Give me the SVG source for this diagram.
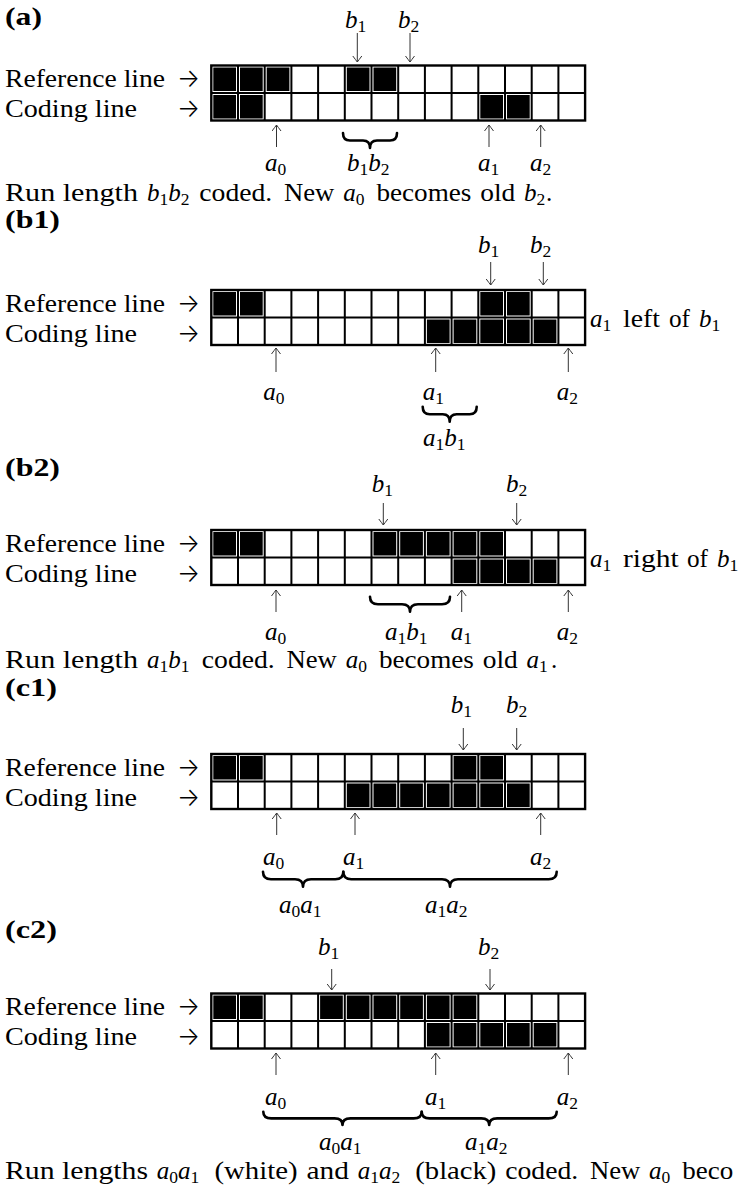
<svg xmlns="http://www.w3.org/2000/svg" xmlns:xlink="http://www.w3.org/1999/xlink" width="745" height="1195" viewBox="0 0 745 1195">
<style>
.t{font-family:"Liberation Serif","Times New Roman",serif;font-size:25px;fill:#000}
.ra{font-family:Inter,"DejaVu Sans",sans-serif;font-weight:300;font-size:26px;fill:#000}
.b{font-weight:bold}
.i{font-style:italic}
.s{font-style:normal;font-size:17.5px}
.gl{fill:none;stroke:#000;stroke-width:2}
.go{fill:none;stroke:#000;stroke-width:2.4}
.k{fill:#000}
.arr{stroke:#333;stroke-width:1;fill:none}
.brace{fill:none;stroke:#000;stroke-width:2.6;stroke-linecap:round;stroke-linejoin:round}
</style>
<defs>
<marker id="ah" viewBox="-7 -5 8 10" refX="0" refY="0" markerWidth="8" markerHeight="10" markerUnits="userSpaceOnUse" orient="auto">
<path d="M-6,-4.5 Q-2,-1.5 0,0 Q-2,1.5 -6,4.5" fill="none" stroke="#333" stroke-width="1"/>
</marker>
<rect id="k" class="k" width="22.7" height="23.5"/>
<g id="grid">
<path class="gl" d="M26.7 0V55M53.4 0V55M80.1 0V55M106.8 0V55M133.5 0V55M160.2 0V55M186.9 0V55M213.6 0V55M240.3 0V55M267 0V55M293.7 0V55M320.4 0V55M347.1 0V55M0 27.5H373.8"/>
<rect class="go" x="0" y="0" width="373.8" height="55"/>
</g>
</defs>
<rect width="745" height="1195" fill="#fff"/>

<!-- Panel (a) -->
<g id="panel-a">
<text class="t b" x="5" y="25" textLength="37" lengthAdjust="spacingAndGlyphs">(a)</text>
<text class="t" x="5" y="87.3" textLength="160" lengthAdjust="spacingAndGlyphs">Reference line</text>
<text class="ra" x="177" y="87.3" textLength="23" lengthAdjust="spacingAndGlyphs">→</text>
<text class="t" x="5" y="117.3" textLength="132" lengthAdjust="spacingAndGlyphs">Coding line</text>
<text class="ra" x="177" y="117.3" textLength="23" lengthAdjust="spacingAndGlyphs">→</text>
<g transform="translate(211.3,65.5)">
<use xlink:href="#k" x="2" y="2"/><use xlink:href="#k" x="28.7" y="2"/><use xlink:href="#k" x="55.4" y="2"/><use xlink:href="#k" x="135.5" y="2"/><use xlink:href="#k" x="162.2" y="2"/>
<use xlink:href="#k" x="2" y="29.5"/><use xlink:href="#k" x="28.7" y="29.5"/><use xlink:href="#k" x="269" y="29.5"/><use xlink:href="#k" x="295.7" y="29.5"/>
<use xlink:href="#grid"/>
</g>
<text class="t i" x="345" y="28">b<tspan class="s" dy="4">1</tspan></text>
<text class="t i" x="398" y="28">b<tspan class="s" dy="4">2</tspan></text>
<text class="t i" x="265" y="171">a<tspan class="s" dy="3.5">0</tspan></text>
<text class="t i" x="347" y="171">b<tspan class="s" dy="3.5">1</tspan><tspan dy="-3.5">b</tspan><tspan class="s" dy="3.5">2</tspan></text>
<text class="t i" x="478" y="171">a<tspan class="s" dy="3.5">1</tspan></text>
<text class="t i" x="530" y="171">a<tspan class="s" dy="3.5">2</tspan></text>
<text class="t" x="5" y="201" textLength="133" lengthAdjust="spacingAndGlyphs">Run length</text>
<text class="t i" x="147" y="201">b<tspan class="s" dy="4">1</tspan><tspan dy="-4">b</tspan><tspan class="s" dy="4">2</tspan></text>
<text class="t" x="199.3" y="201" textLength="73" lengthAdjust="spacingAndGlyphs">coded.</text>
<text class="t" x="284" y="201" textLength="50.4" lengthAdjust="spacingAndGlyphs">New</text>
<text class="t i" x="343.2" y="201">a<tspan class="s" dy="4">0</tspan></text>
<text class="t" x="376.4" y="201" textLength="95" lengthAdjust="spacingAndGlyphs">becomes</text>
<text class="t" x="480.2" y="201" textLength="35" lengthAdjust="spacingAndGlyphs">old</text>
<text class="t i" x="524" y="201">b<tspan class="s" dy="4">2</tspan></text>
<text class="t" x="546" y="201">.</text>
</g>

<!-- Panel (b1) -->
<g id="panel-b1">
<text class="t b" x="5" y="228" textLength="55" lengthAdjust="spacingAndGlyphs">(b1)</text>
<text class="t" x="5" y="311.8" textLength="160" lengthAdjust="spacingAndGlyphs">Reference line</text>
<text class="ra" x="177" y="311.8" textLength="23" lengthAdjust="spacingAndGlyphs">→</text>
<text class="t" x="5" y="341.8" textLength="132" lengthAdjust="spacingAndGlyphs">Coding line</text>
<text class="ra" x="177" y="341.8" textLength="23" lengthAdjust="spacingAndGlyphs">→</text>
<g transform="translate(211.3,290)">
<use xlink:href="#k" x="2" y="2"/><use xlink:href="#k" x="28.7" y="2"/><use xlink:href="#k" x="269" y="2"/><use xlink:href="#k" x="295.7" y="2"/>
<use xlink:href="#k" x="215.6" y="29.5"/><use xlink:href="#k" x="242.3" y="29.5"/><use xlink:href="#k" x="269" y="29.5"/><use xlink:href="#k" x="295.7" y="29.5"/><use xlink:href="#k" x="322.4" y="29.5"/>
<use xlink:href="#grid"/>
</g>
<text class="t i" x="478" y="253">b<tspan class="s" dy="4">1</tspan></text>
<text class="t i" x="530" y="253">b<tspan class="s" dy="4">2</tspan></text>
<text class="t i" x="263.3" y="400">a<tspan class="s" dy="4">0</tspan></text>
<text class="t i" x="422.7" y="400">a<tspan class="s" dy="4">1</tspan></text>
<text class="t i" x="556.7" y="400">a<tspan class="s" dy="4">2</tspan></text>
<text class="t i" x="423" y="446">a<tspan class="s" dy="4">1</tspan><tspan dy="-4">b</tspan><tspan class="s" dy="4">1</tspan></text>
<text class="t i" x="590" y="327">a<tspan class="s" dy="4">1</tspan></text>
<text class="t" x="623" y="327" textLength="37" lengthAdjust="spacingAndGlyphs">left</text>
<text class="t" x="669" y="327" textLength="21" lengthAdjust="spacingAndGlyphs">of</text>
<text class="t i" x="699" y="327">b<tspan class="s" dy="4">1</tspan></text>
</g>

<!-- Panel (b2) -->
<g id="panel-b2">
<text class="t b" x="5" y="476" textLength="55" lengthAdjust="spacingAndGlyphs">(b2)</text>
<text class="t" x="5" y="551.8" textLength="160" lengthAdjust="spacingAndGlyphs">Reference line</text>
<text class="ra" x="177" y="551.8" textLength="23" lengthAdjust="spacingAndGlyphs">→</text>
<text class="t" x="5" y="581.8" textLength="132" lengthAdjust="spacingAndGlyphs">Coding line</text>
<text class="ra" x="177" y="581.8" textLength="23" lengthAdjust="spacingAndGlyphs">→</text>
<g transform="translate(211.3,530)">
<use xlink:href="#k" x="2" y="2"/><use xlink:href="#k" x="28.7" y="2"/><use xlink:href="#k" x="162.2" y="2"/><use xlink:href="#k" x="188.9" y="2"/><use xlink:href="#k" x="215.6" y="2"/><use xlink:href="#k" x="242.3" y="2"/><use xlink:href="#k" x="269" y="2"/>
<use xlink:href="#k" x="242.3" y="29.5"/><use xlink:href="#k" x="269" y="29.5"/><use xlink:href="#k" x="295.7" y="29.5"/><use xlink:href="#k" x="322.4" y="29.5"/>
<use xlink:href="#grid"/>
</g>
<text class="t i" x="371.7" y="491.7">b<tspan class="s" dy="4">1</tspan></text>
<text class="t i" x="506" y="491.7">b<tspan class="s" dy="4">2</tspan></text>
<text class="t i" x="265" y="640">a<tspan class="s" dy="4">0</tspan></text>
<text class="t i" x="385" y="640">a<tspan class="s" dy="4">1</tspan><tspan dy="-4">b</tspan><tspan class="s" dy="4">1</tspan></text>
<text class="t i" x="450.7" y="640">a<tspan class="s" dy="4">1</tspan></text>
<text class="t i" x="556.7" y="640">a<tspan class="s" dy="4">2</tspan></text>
<text class="t i" x="590" y="567">a<tspan class="s" dy="4">1</tspan></text>
<text class="t" x="623" y="567" textLength="55.6" lengthAdjust="spacingAndGlyphs">right</text>
<text class="t" x="687" y="567" textLength="21" lengthAdjust="spacingAndGlyphs">of</text>
<text class="t i" x="717" y="567">b<tspan class="s" dy="4">1</tspan></text>
<text class="t" x="5" y="668" textLength="133" lengthAdjust="spacingAndGlyphs">Run length</text>
<text class="t i" x="147" y="668">a<tspan class="s" dy="4">1</tspan><tspan dy="-4">b</tspan><tspan class="s" dy="4">1</tspan></text>
<text class="t" x="201.8" y="668" textLength="73" lengthAdjust="spacingAndGlyphs">coded.</text>
<text class="t" x="286.5" y="668" textLength="50.4" lengthAdjust="spacingAndGlyphs">New</text>
<text class="t i" x="345.7" y="668">a<tspan class="s" dy="4">0</tspan></text>
<text class="t" x="378.9" y="668" textLength="95" lengthAdjust="spacingAndGlyphs">becomes</text>
<text class="t" x="482.7" y="668" textLength="35" lengthAdjust="spacingAndGlyphs">old</text>
<text class="t i" x="526.5" y="668">a<tspan class="s" dy="4">1</tspan></text>
<text class="t" x="550.9" y="668">.</text>
</g>

<!-- Panel (c1) -->
<g id="panel-c1">
<text class="t b" x="5" y="696" textLength="52" lengthAdjust="spacingAndGlyphs">(c1)</text>
<text class="t" x="5" y="775.8" textLength="160" lengthAdjust="spacingAndGlyphs">Reference line</text>
<text class="ra" x="177" y="775.8" textLength="23" lengthAdjust="spacingAndGlyphs">→</text>
<text class="t" x="5" y="805.8" textLength="132" lengthAdjust="spacingAndGlyphs">Coding line</text>
<text class="ra" x="177" y="805.8" textLength="23" lengthAdjust="spacingAndGlyphs">→</text>
<g transform="translate(211.3,754)">
<use xlink:href="#k" x="2" y="2"/><use xlink:href="#k" x="28.7" y="2"/><use xlink:href="#k" x="242.3" y="2"/><use xlink:href="#k" x="269" y="2"/>
<use xlink:href="#k" x="135.5" y="29.5"/><use xlink:href="#k" x="162.2" y="29.5"/><use xlink:href="#k" x="188.9" y="29.5"/><use xlink:href="#k" x="215.6" y="29.5"/><use xlink:href="#k" x="242.3" y="29.5"/><use xlink:href="#k" x="269" y="29.5"/><use xlink:href="#k" x="295.7" y="29.5"/>
<use xlink:href="#grid"/>
</g>
<text class="t i" x="450.7" y="713">b<tspan class="s" dy="4">1</tspan></text>
<text class="t i" x="506" y="713">b<tspan class="s" dy="4">2</tspan></text>
<text class="t i" x="263" y="865">a<tspan class="s" dy="4">0</tspan></text>
<text class="t i" x="343" y="865">a<tspan class="s" dy="4">1</tspan></text>
<text class="t i" x="530" y="865">a<tspan class="s" dy="4">2</tspan></text>
<text class="t i" x="279" y="913">a<tspan class="s" dy="4">0</tspan><tspan dy="-4">a</tspan><tspan class="s" dy="4">1</tspan></text>
<text class="t i" x="425" y="913">a<tspan class="s" dy="4">1</tspan><tspan dy="-4">a</tspan><tspan class="s" dy="4">2</tspan></text>
</g>

<!-- Panel (c2) -->
<g id="panel-c2">
<text class="t b" x="5" y="938" textLength="52" lengthAdjust="spacingAndGlyphs">(c2)</text>
<text class="t" x="5" y="1015.3" textLength="160" lengthAdjust="spacingAndGlyphs">Reference line</text>
<text class="ra" x="177" y="1015.3" textLength="23" lengthAdjust="spacingAndGlyphs">→</text>
<text class="t" x="5" y="1045.3" textLength="132" lengthAdjust="spacingAndGlyphs">Coding line</text>
<text class="ra" x="177" y="1045.3" textLength="23" lengthAdjust="spacingAndGlyphs">→</text>
<g transform="translate(211.3,993.5)">
<use xlink:href="#k" x="2" y="2"/><use xlink:href="#k" x="28.7" y="2"/><use xlink:href="#k" x="108.8" y="2"/><use xlink:href="#k" x="135.5" y="2"/><use xlink:href="#k" x="162.2" y="2"/><use xlink:href="#k" x="188.9" y="2"/><use xlink:href="#k" x="215.6" y="2"/><use xlink:href="#k" x="242.3" y="2"/>
<use xlink:href="#k" x="215.6" y="29.5"/><use xlink:href="#k" x="242.3" y="29.5"/><use xlink:href="#k" x="269" y="29.5"/><use xlink:href="#k" x="295.7" y="29.5"/><use xlink:href="#k" x="322.4" y="29.5"/>
<use xlink:href="#grid"/>
</g>
<text class="t i" x="318" y="955">b<tspan class="s" dy="4">1</tspan></text>
<text class="t i" x="478" y="955">b<tspan class="s" dy="4">2</tspan></text>
<text class="t i" x="265" y="1105">a<tspan class="s" dy="4">0</tspan></text>
<text class="t i" x="425" y="1105">a<tspan class="s" dy="4">1</tspan></text>
<text class="t i" x="556.7" y="1105">a<tspan class="s" dy="4">2</tspan></text>
<text class="t i" x="319" y="1150">a<tspan class="s" dy="4">0</tspan><tspan dy="-4">a</tspan><tspan class="s" dy="4">1</tspan></text>
<text class="t i" x="465" y="1150">a<tspan class="s" dy="4">1</tspan><tspan dy="-4">a</tspan><tspan class="s" dy="4">2</tspan></text>
<text class="t" x="5" y="1179" textLength="143" lengthAdjust="spacingAndGlyphs">Run lengths</text>
<text class="t i" x="156.8" y="1179">a<tspan class="s" dy="4">0</tspan><tspan dy="-4">a</tspan><tspan class="s" dy="4">1</tspan></text>
<text class="t" x="214.4" y="1179" textLength="83.3" lengthAdjust="spacingAndGlyphs">(white)</text>
<text class="t" x="306.5" y="1179" textLength="42.4" lengthAdjust="spacingAndGlyphs">and</text>
<text class="t i" x="357.7" y="1179">a<tspan class="s" dy="4">1</tspan><tspan dy="-4">a</tspan><tspan class="s" dy="4">2</tspan></text>
<text class="t" x="415.3" y="1179" textLength="81.1" lengthAdjust="spacingAndGlyphs">(black)</text>
<text class="t" x="505.2" y="1179" textLength="73" lengthAdjust="spacingAndGlyphs">coded.</text>
<text class="t" x="589.9" y="1179" textLength="50.4" lengthAdjust="spacingAndGlyphs">New</text>
<text class="t i" x="649.1" y="1179">a<tspan class="s" dy="4">0</tspan></text>
<text class="t" x="682.3" y="1179" textLength="51" lengthAdjust="spacingAndGlyphs">beco</text>
</g>

<!-- Connectors: arrows and braces -->
<g id="connectors">
<line class="arr" x1="357.3" y1="33" x2="357.3" y2="62" marker-end="url(#ah)"/>
<line class="arr" x1="410" y1="33" x2="410" y2="62" marker-end="url(#ah)"/>
<line class="arr" x1="276.5" y1="147" x2="276.5" y2="125" marker-end="url(#ah)"/>
<line class="arr" x1="489" y1="147" x2="489" y2="125" marker-end="url(#ah)"/>
<line class="arr" x1="540.7" y1="147" x2="540.7" y2="125" marker-end="url(#ah)"/>
<path class="brace" d="M343,133 Q343,140.5 350,140.5 L363,140.5 Q370,140.5 370,148 Q370,140.5 377,140.5 L390,140.5 Q397,140.5 397,133"/>

<line class="arr" x1="490.7" y1="262" x2="490.7" y2="285" marker-end="url(#ah)"/>
<line class="arr" x1="543.3" y1="262" x2="543.3" y2="285" marker-end="url(#ah)"/>
<line class="arr" x1="276" y1="372" x2="276" y2="348" marker-end="url(#ah)"/>
<line class="arr" x1="435.7" y1="372" x2="435.7" y2="348" marker-end="url(#ah)"/>
<line class="arr" x1="568.3" y1="372" x2="568.3" y2="348" marker-end="url(#ah)"/>
<path class="brace" d="M422.7,406.7 Q422.7,414.2 429.7,414.2 L442.7,414.2 Q449.7,414.2 449.7,421.7 Q449.7,414.2 456.7,414.2 L469.7,414.2 Q476.7,414.2 476.7,406.7"/>

<line class="arr" x1="383.3" y1="503" x2="383.3" y2="525" marker-end="url(#ah)"/>
<line class="arr" x1="516.7" y1="503" x2="516.7" y2="525" marker-end="url(#ah)"/>
<line class="arr" x1="276" y1="612" x2="276" y2="590" marker-end="url(#ah)"/>
<line class="arr" x1="461.7" y1="612" x2="461.7" y2="590" marker-end="url(#ah)"/>
<line class="arr" x1="568.3" y1="612" x2="568.3" y2="590" marker-end="url(#ah)"/>
<path class="brace" d="M370,596.7 Q370,604.2 378,604.2 L402,604.2 Q410,604.2 410,611.7 Q410,604.2 418,604.2 L442,604.2 Q450,604.2 450,596.7"/>

<line class="arr" x1="463.3" y1="728" x2="463.3" y2="750" marker-end="url(#ah)"/>
<line class="arr" x1="516.7" y1="728" x2="516.7" y2="750" marker-end="url(#ah)"/>
<line class="arr" x1="276.7" y1="835" x2="276.7" y2="813" marker-end="url(#ah)"/>
<line class="arr" x1="355" y1="835" x2="355" y2="813" marker-end="url(#ah)"/>
<line class="arr" x1="540.7" y1="835" x2="540.7" y2="813" marker-end="url(#ah)"/>
<path class="brace" d="M263,871.7 Q263,879.2 271,879.2 L295,879.2 Q303,879.2 303,886.7 Q303,879.2 311,879.2 L335.3,879.2 Q343.3,879.2 343.3,871.7"/>
<path class="brace" d="M343.3,871.7 Q343.3,879.2 351.3,879.2 L442,879.2 Q450,879.2 450,886.7 Q450,879.2 458,879.2 L548.7,879.2 Q556.7,879.2 556.7,871.7"/>

<line class="arr" x1="331.7" y1="969" x2="331.7" y2="990" marker-end="url(#ah)"/>
<line class="arr" x1="490" y1="969" x2="490" y2="990" marker-end="url(#ah)"/>
<line class="arr" x1="276" y1="1075" x2="276" y2="1053" marker-end="url(#ah)"/>
<line class="arr" x1="435.7" y1="1075" x2="435.7" y2="1053" marker-end="url(#ah)"/>
<line class="arr" x1="568.3" y1="1075" x2="568.3" y2="1053" marker-end="url(#ah)"/>
<path class="brace" d="M263.3,1111.7 Q263.3,1118.4 271.3,1118.4 L334.5,1118.4 Q342.5,1118.4 342.5,1125 Q342.5,1118.4 350.5,1118.4 L413.7,1118.4 Q421.7,1118.4 421.7,1111.7"/>
<path class="brace" d="M421.7,1111.7 Q421.7,1118.4 429.7,1118.4 L481.2,1118.4 Q489.2,1118.4 489.2,1125 Q489.2,1118.4 497.2,1118.4 L548.7,1118.4 Q556.7,1118.4 556.7,1111.7"/>
</g>
</svg>
